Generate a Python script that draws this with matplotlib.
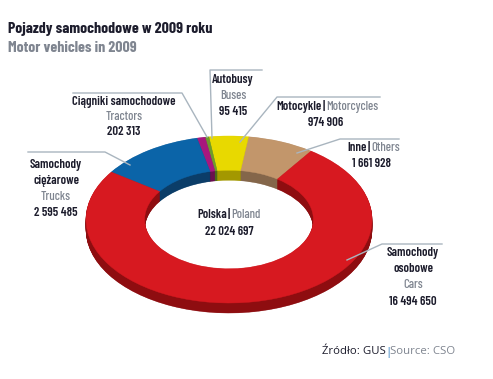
import numpy as np
import matplotlib.pyplot as plt
from matplotlib import font_manager
from matplotlib.patches import Wedge
from matplotlib.transforms import Affine2D

# slices, counterclockwise from the Inne/Cars boundary
names_pl = ['Inne', 'Motocykle', 'Autobusy', 'Ciągniki samochodowe', 'Samochody ciężarowe', 'Samochody osobowe']
names_en = ['Others', 'Motorcycles', 'Buses', 'Tractors', 'Trucks', 'Cars']
values = [1661928, 974906, 95415, 202313, 2595485, 16494650]
colors = ['#c2966b', '#e8d900', '#6e9b2c', '#a8177e', '#0b64a8', '#d71920']
wall_colors = ['#84664a', '#a39800', '#4a6a1c', '#6a0f4f', '#0b3d68', '#8e0d10']

title_pl = 'Pojazdy samochodowe w 2009 roku'
title_en = 'Motor vehicles in 2009'
source_pl = 'Źródło: GUS'
source_en = 'Source: CSO'

DARK = '#1c1c2c'
GRAY = '#7f8590'
LINE = '#a9b5bf'

# look for a narrow face among the installed fonts, prefer one that has a bold cut
weights = {}
for f in font_manager.fontManager.ttflist:
    if 'Narrow' in f.name or 'Condensed' in f.name or str(f.stretch) in ('condensed', 'semi-condensed'):
        w = f.weight if isinstance(f.weight, int) else 400
        weights.setdefault(f.name, set()).add(w)
narrow = sorted(weights, key=lambda n: (max(weights[n]) < 600, -len(weights[n])))
if narrow:
    COND = dict(family=[narrow[0], 'DejaVu Sans'], fontstretch='condensed')
    SCALE = 1.0
else:
    COND = dict(family=['Roboto', 'DejaVu Sans'])
    SCALE = 0.85


def fmt(v):
    return f'{v:,}'.replace(',', ' ')


total = sum(values)

fig = plt.figure(figsize=(4.93, 3.79), dpi=100)
ax = fig.add_axes([0, 0, 1, 1])
ax.set_xlim(0, 493)
ax.set_ylim(379, 0)
ax.axis('off')

# tilted donut
cx, cy, rx, ry, depth = 229, 219.5, 143, 83.5, 10
hole = 0.59
start = 55
angles = start + np.concatenate([[0], np.cumsum(values)]) / total * 360


def ring(dy):
    return Affine2D().scale(rx, -ry).translate(cx, cy + dy) + ax.transData


for d in np.arange(depth, 0, -0.5):
    for i in range(len(values)):
        ax.add_patch(Wedge((0, 0), 1, angles[i], angles[i + 1], width=1 - hole,
                           transform=ring(d), facecolor=wall_colors[i],
                           edgecolor=wall_colors[i], lw=0.3))
for i in range(len(values)):
    ax.add_patch(Wedge((0, 0), 1, angles[i], angles[i + 1], width=1 - hole,
                       transform=ring(0), facecolor=colors[i],
                       edgecolor=colors[i], lw=0.3))

# titles
ax.text(8, 33, title_pl, fontsize=11.4 * SCALE, fontweight='bold', color=DARK, va='baseline', **COND)
ax.text(8, 52, title_en, fontsize=11.4 * SCALE, fontweight='bold', color=GRAY, va='baseline', **COND)

FS = 9.1 * SCALE
WT = 'semibold'
WT_EN = 'medium'


def split_line(xbar, y, left, right):
    ax.text(xbar - 2, y, left, ha='right', va='center', color=DARK, fontsize=FS, fontweight=WT, **COND)
    ax.text(xbar, y, '|', ha='center', va='center', color=DARK, fontsize=FS, fontweight=WT, **COND)
    ax.text(xbar + 2, y, right, ha='left', va='center', color=GRAY, fontsize=FS, fontweight=WT_EN, **COND)


def stacked(x, ys, parts):
    for y, (txt, col) in zip(ys, parts):
        ax.text(x, y, txt, ha='center', va='center', color=col, fontsize=FS,
                fontweight=WT if col == DARK else WT_EN, **COND)


# labels
stacked(56, [165, 181, 197, 213],
        [('Samochody', DARK), ('ciężarowe', DARK), (names_en[4], GRAY), (fmt(values[4]), DARK)])
stacked(124, [102, 117, 132],
        [(names_pl[3], DARK), (names_en[3], GRAY), (fmt(values[3]), DARK)])
stacked(233, [80, 96, 112],
        [(names_pl[2], DARK), (names_en[2], GRAY), (fmt(values[2]), DARK)])
split_line(324, 107, names_pl[1], names_en[1])
stacked(326, [123], [(fmt(values[1]), DARK)])
split_line(369, 148, names_pl[0], names_en[0])
stacked(372, [164], [(fmt(values[0]), DARK)])
stacked(413, [253, 269, 285, 302],
        [('Samochody', DARK), ('osobowe', DARK), (names_en[5], GRAY), (fmt(values[5]), DARK)])
split_line(229, 215, 'Polska', 'Poland')
stacked(229, [232], [(fmt(total), DARK)])

# leader lines
leaders = [
    ([28, 105, 130], [152, 152, 165]),
    ([73, 182, 207], [93, 93, 137]),
    ([262, 210, 212], [70, 70, 138]),
    ([380, 277, 240], [97, 97, 142]),
    ([399, 340, 297], [139, 139, 153]),
    ([442, 382, 347], [244, 244, 260]),
]
for xs, ys in leaders:
    ax.plot(xs, ys, color=LINE, lw=1)

# source
SRC = dict(fontsize=8.2, family=['Open Sans', 'DejaVu Sans'], va='center')
ax.text(386, 352, source_pl, ha='right', color=DARK, **SRC)
ax.text(388, 352, '|', ha='center', color='#2b7bbf', **SRC)
ax.text(390, 352, source_en, ha='left', color=GRAY, **SRC)

fig.savefig('out.png', dpi=100, facecolor='white')
